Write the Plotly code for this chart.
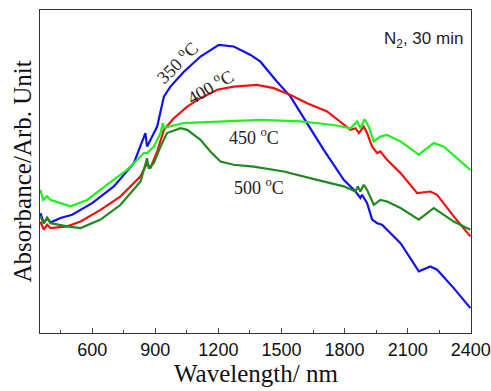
import plotly.graph_objects as go

# ---- data (y in arbitrary units 0-100) ----
wl_350 = [354, 370, 386, 402, 449, 505, 600, 703, 798, 853, 861, 877, 909, 941, 972, 1036, 1115, 1202, 1273, 1353, 1400, 1479, 1543, 1622, 1701, 1796, 1852, 1875, 1883, 1907, 1931, 1955, 1978, 2066, 2153, 2208, 2240, 2319, 2398]
ab_350 = [37.1, 34.0, 35.6, 34.2, 35.6, 36.6, 40.2, 45.4, 52.6, 61.9, 57.7, 59.8, 63.9, 73.2, 76.3, 80.9, 85.6, 89.2, 88.7, 86.1, 84.0, 77.8, 73.2, 64.9, 56.7, 47.4, 43.8, 41.8, 42.8, 40.2, 35.1, 34.0, 33.5, 27.8, 19.1, 20.6, 19.6, 13.9, 7.7]

wl_400 = [354, 370, 386, 402, 481, 545, 640, 735, 830, 861, 877, 909, 941, 988, 1052, 1115, 1194, 1273, 1384, 1463, 1543, 1622, 1717, 1780, 1828, 1852, 1868, 1891, 1907, 1931, 1955, 1970, 2002, 2066, 2145, 2208, 2240, 2319, 2398]
ab_400 = [34.5, 32.0, 33.5, 32.5, 33.0, 34.5, 38.1, 42.3, 48.5, 52.6, 51.0, 56.2, 62.9, 66.5, 70.1, 72.7, 75.3, 76.3, 76.8, 75.8, 73.7, 71.1, 68.6, 65.5, 62.9, 63.4, 61.9, 63.9, 61.9, 57.7, 55.7, 56.2, 53.6, 49.5, 43.3, 43.8, 42.8, 36.1, 29.9]

wl_450 = [354, 367, 386, 402, 497, 576, 671, 766, 846, 861, 893, 925, 936, 941, 1036, 1194, 1400, 1590, 1749, 1828, 1860, 1875, 1895, 1915, 1939, 1970, 2002, 2066, 2153, 2224, 2272, 2398]
ab_450 = [44.3, 41.2, 42.3, 41.2, 39.2, 41.2, 45.9, 50.5, 55.7, 55.7, 57.7, 61.9, 65.0, 63.5, 65.0, 65.5, 66.0, 65.5, 64.4, 63.4, 65.5, 63.4, 66.2, 63.9, 59.3, 60.8, 61.3, 59.3, 55.2, 58.8, 57.7, 50.5]

wl_500 = [354, 370, 386, 402, 481, 545, 640, 735, 830, 861, 869, 893, 925, 956, 1020, 1052, 1115, 1162, 1210, 1273, 1368, 1511, 1669, 1796, 1852, 1863, 1875, 1891, 1907, 1939, 1970, 2002, 2066, 2153, 2224, 2319, 2398]
ab_500 = [36.1, 34.0, 35.6, 34.0, 33.0, 32.5, 35.1, 39.7, 46.9, 54.1, 50.9, 52.6, 57.7, 61.9, 63.4, 62.9, 59.8, 56.2, 53.1, 52.1, 51.5, 50.0, 47.4, 45.4, 43.8, 45.4, 43.8, 45.9, 44.3, 39.7, 41.2, 40.7, 38.7, 35.1, 38.7, 34.5, 32.0]

x_ticks = [600, 900, 1200, 1500, 1800, 2100, 2400]
x_tick_labels = ["600", "900", "1200", "1500", "1800", "2100", "2400"]

series = [
    ("350 °C", wl_350, ab_350, "#1010f0"),
    ("400 °C", wl_400, ab_400, "#ee1111"),
    ("450 °C", wl_450, ab_450, "#22ee22"),
    ("500 °C", wl_500, ab_500, "#1e8a1e"),
]

fig = go.Figure()
for name, x, y, c in series:
    fig.add_trace(go.Scatter(x=x, y=y, mode="lines", name=name,
                             line=dict(color=c, width=2.2), showlegend=False))

serif = "Liberation Serif, Times New Roman, serif"
sans = "Liberation Sans, Arial, sans-serif"

ann = [
    dict(x=1001, y=83.8, text="350 <sup>o</sup>C", textangle=-45),
    dict(x=1158, y=76.4, text="400 <sup>o</sup>C", textangle=-30),
    dict(x=1367, y=60.9, text="450 <sup>o</sup>C", textangle=0),
    dict(x=1395, y=45.4, text="500 <sup>o</sup>C", textangle=0),
]
for a in ann:
    fig.add_annotation(x=a["x"], y=a["y"], xref="x", yref="y", text=a["text"],
                       textangle=a["textangle"], showarrow=False,
                       font=dict(family=serif, size=18, color="#222"))

fig.add_annotation(x=1, y=0.946, xref="paper", yref="paper", xanchor="right",
                   xshift=-6, text="N<sub>2</sub>, 30 min", showarrow=False,
                   font=dict(family=sans, size=17, color="#222"))

# axis titles placed as paper annotations to keep the plot area fixed
fig.add_annotation(x=0.5, y=0, xref="paper", yref="paper", yanchor="middle",
                   yshift=-40, text="Wavelength/ nm", showarrow=False,
                   font=dict(family=serif, size=25, color="#111"))
fig.add_annotation(x=0, y=0.5, xref="paper", yref="paper", xanchor="center",
                   xshift=-18, text="Absorbance/Arb. Unit", textangle=-90,
                   showarrow=False,
                   font=dict(family=serif, size=25, color="#111"))

fig.update_layout(
    width=491, height=391,
    margin=dict(l=40, r=20, t=10, b=58),
    paper_bgcolor="white", plot_bgcolor="white",
    xaxis=dict(range=[352, 2401], tickvals=x_ticks, ticktext=x_tick_labels,
               ticks="inside", ticklen=5, tickcolor="#444", tickwidth=1,
               minor=dict(tickvals=[450, 750, 1050, 1350, 1650, 1950, 2250],
                          ticks="inside", ticklen=3, tickcolor="#444"),
               showline=True, linecolor="#333", linewidth=1.2, mirror=True,
               showgrid=False, zeroline=False, automargin=False,
               tickfont=dict(family=sans, size=18, color="#111")),
    yaxis=dict(range=[0, 100], showticklabels=False, ticks="",
               showline=True, linecolor="#333", linewidth=1.2, mirror=True,
               showgrid=False, zeroline=False, automargin=False),
)

fig.write_html("out.html", config={"displayModeBar": False},
               post_script="document.body.style.margin='0';document.body.style.overflow='hidden';")
